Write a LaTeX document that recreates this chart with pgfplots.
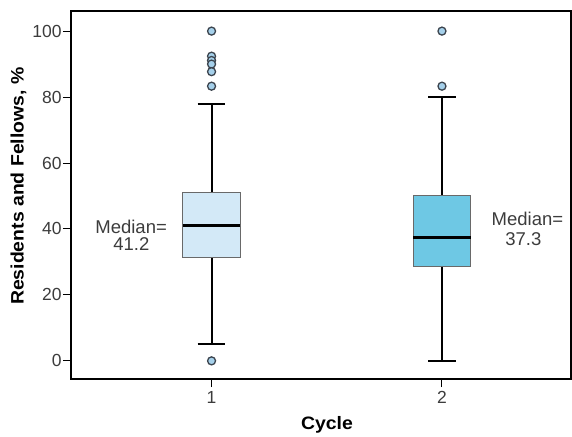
\documentclass[border=0pt]{standalone}
\usepackage{pgfplots}
\pgfplotsset{compat=1.18}
\usepgfplotslibrary{statistics}
\usepackage{fontspec}
\setmainfont{Liberation Sans}
\newfontfamily\labelfont{Liberation Sans}[FakeStretch=1.08]
\definecolor{boxA}{RGB}{211,233,247}
\definecolor{boxB}{RGB}{110,200,228}
\definecolor{outfill}{RGB}{165,208,234}
\definecolor{outdraw}{RGB}{60,68,78}
\definecolor{boxedge}{RGB}{105,105,105}
\definecolor{ticktext}{RGB}{60,60,60}
\begin{document}
\begin{tikzpicture}
\begin{axis}[
  name=ax,
  scale only axis,
  width=500pt, height=368pt,
  xmin=0.39, xmax=2.56,
  ymin=-5.5, ymax=106.1,
  xtick={1,2},
  ytick={0,20,40,60,80,100},
  tick align=outside,
  xtick pos=left, ytick pos=left,
  major tick length=8pt,
  tick style={line width=1pt, black},
  axis line style={line width=1.2pt, black},
  ticklabel style={font=\fontsize{17.5}{19}\selectfont, text=ticktext},
  yticklabel style={inner sep=1.2pt},
  xticklabel style={inner sep=4pt},
  /pgf/number format/assume math mode=true,
  xlabel={Cycle},
  ylabel={Residents and Fellows, \%},
  xlabel style={font=\labelfont\fontsize{18}{20}\selectfont\bfseries, at={(axis description cs:0.512,-0.125)}, anchor=center},
  ylabel style={font=\labelfont\fontsize{18}{20}\selectfont\bfseries, at={(axis description cs:-0.105,0.524)}, anchor=center},
  boxplot/draw direction=y,
  boxplot/every whisker/.style={draw=black, line width=1.9pt},
  boxplot/every median/.style={draw=black, line width=3pt},
  boxplot/box extend=0.25,
  boxplot/whisker extend=0.12,
  clip=false,
]
% cycle 1
\addplot[
  draw=boxedge, fill=boxA, line width=0.9pt,
  mark=*, mark size=4pt,
  mark options={fill=outfill, draw=outdraw, line width=1.3pt},
  boxplot prepared={
    median=41.2, upper quartile=51.1, lower quartile=31.4,
    upper whisker=77.8, lower whisker=5.2,
    draw position=1,
  },
] table[row sep=\\, y index=0] {100\\ 92.4\\ 91.1\\ 90.0\\ 87.7\\ 83.3\\ 0\\};
% cycle 2
\addplot[
  draw=boxedge, fill=boxB, line width=0.9pt,
  mark=*, mark size=4pt,
  mark options={fill=outfill, draw=outdraw, line width=1.3pt},
  boxplot prepared={
    median=37.3, upper quartile=50.1, lower quartile=28.6,
    upper whisker=80.0, lower whisker=0,
    draw position=2,
  },
] table[row sep=\\, y index=0] {100\\ 83.3\\};
% median annotations
\node[anchor=base, font=\fontsize{18.5}{20}\selectfont, text=ticktext] at (axis cs:0.651,38.7) {Median=};
\node[anchor=base, font=\fontsize{18.5}{20}\selectfont, text=ticktext] at (axis cs:0.652,33.4) {41.2};
\node[anchor=base, font=\fontsize{18.5}{20}\selectfont, text=ticktext] at (axis cs:2.371,41.2) {Median=};
\node[anchor=base, font=\fontsize{18.5}{20}\selectfont, text=ticktext] at (axis cs:2.353,34.9) {37.3};
\end{axis}
\path (ax.south west) ++(-71pt,-55pt);
\path (ax.north east) ++(1pt,11pt);
\end{tikzpicture}
\end{document}
